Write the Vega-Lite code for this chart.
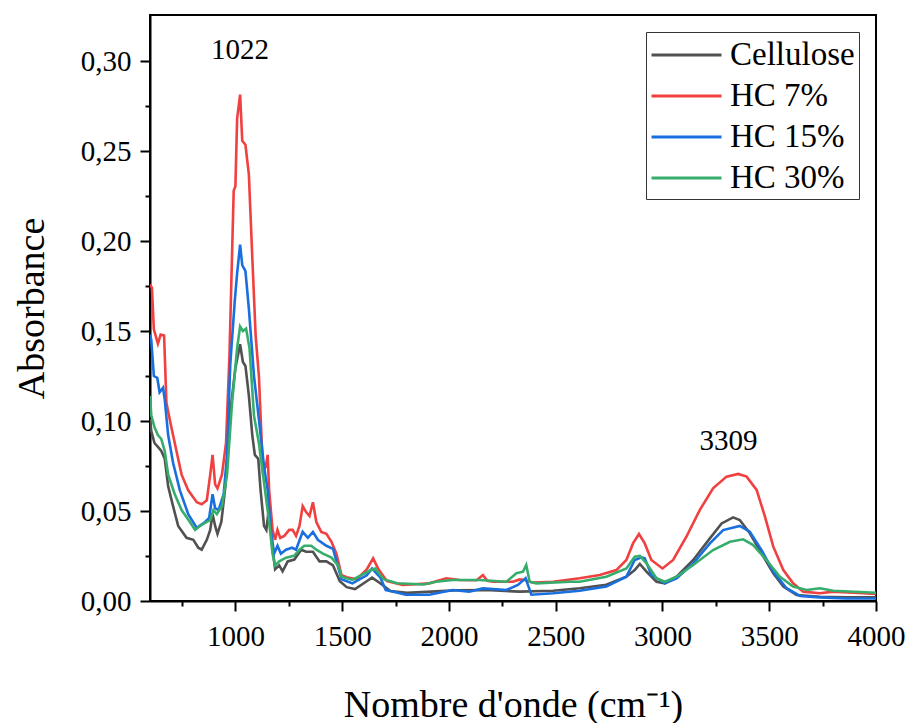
{
  "$schema": "https://vega.github.io/schema/vega-lite/v6.json",
  "width": 726,
  "height": 586,
  "autosize": {"type": "none"},
  "padding": {"left": 150, "top": 15, "right": 31, "bottom": 122},
  "background": "white",
  "datasets": {
    "spectres": [
      {"serie": "Cellulose", "nombre_onde": 600, "absorbance": 0.101},
      {"serie": "Cellulose", "nombre_onde": 606, "absorbance": 0.0944},
      {"serie": "Cellulose", "nombre_onde": 621, "absorbance": 0.0878},
      {"serie": "Cellulose", "nombre_onde": 637, "absorbance": 0.0856},
      {"serie": "Cellulose", "nombre_onde": 653, "absorbance": 0.0834},
      {"serie": "Cellulose", "nombre_onde": 669, "absorbance": 0.079},
      {"serie": "Cellulose", "nombre_onde": 685, "absorbance": 0.0637},
      {"serie": "Cellulose", "nombre_onde": 708, "absorbance": 0.0527},
      {"serie": "Cellulose", "nombre_onde": 732, "absorbance": 0.0417},
      {"serie": "Cellulose", "nombre_onde": 771, "absorbance": 0.0351},
      {"serie": "Cellulose", "nombre_onde": 803, "absorbance": 0.034},
      {"serie": "Cellulose", "nombre_onde": 826, "absorbance": 0.0296},
      {"serie": "Cellulose", "nombre_onde": 842, "absorbance": 0.0285},
      {"serie": "Cellulose", "nombre_onde": 866, "absorbance": 0.034},
      {"serie": "Cellulose", "nombre_onde": 882, "absorbance": 0.0395},
      {"serie": "Cellulose", "nombre_onde": 893, "absorbance": 0.0483},
      {"serie": "Cellulose", "nombre_onde": 905, "absorbance": 0.0417},
      {"serie": "Cellulose", "nombre_onde": 916, "absorbance": 0.0373},
      {"serie": "Cellulose", "nombre_onde": 934, "absorbance": 0.0439},
      {"serie": "Cellulose", "nombre_onde": 953, "absorbance": 0.0637},
      {"serie": "Cellulose", "nombre_onde": 976, "absorbance": 0.105},
      {"serie": "Cellulose", "nombre_onde": 1000, "absorbance": 0.1295},
      {"serie": "Cellulose", "nombre_onde": 1022, "absorbance": 0.1427},
      {"serie": "Cellulose", "nombre_onde": 1035, "absorbance": 0.1328},
      {"serie": "Cellulose", "nombre_onde": 1047, "absorbance": 0.1306},
      {"serie": "Cellulose", "nombre_onde": 1063, "absorbance": 0.1141},
      {"serie": "Cellulose", "nombre_onde": 1079, "absorbance": 0.0922},
      {"serie": "Cellulose", "nombre_onde": 1091, "absorbance": 0.0812},
      {"serie": "Cellulose", "nombre_onde": 1107, "absorbance": 0.079},
      {"serie": "Cellulose", "nombre_onde": 1118, "absorbance": 0.0615},
      {"serie": "Cellulose", "nombre_onde": 1134, "absorbance": 0.0417},
      {"serie": "Cellulose", "nombre_onde": 1145, "absorbance": 0.0395},
      {"serie": "Cellulose", "nombre_onde": 1158, "absorbance": 0.0527},
      {"serie": "Cellulose", "nombre_onde": 1170, "absorbance": 0.0329},
      {"serie": "Cellulose", "nombre_onde": 1186, "absorbance": 0.0176},
      {"serie": "Cellulose", "nombre_onde": 1205, "absorbance": 0.0198},
      {"serie": "Cellulose", "nombre_onde": 1221, "absorbance": 0.0165},
      {"serie": "Cellulose", "nombre_onde": 1245, "absorbance": 0.022},
      {"serie": "Cellulose", "nombre_onde": 1276, "absorbance": 0.023},
      {"serie": "Cellulose", "nombre_onde": 1308, "absorbance": 0.0285},
      {"serie": "Cellulose", "nombre_onde": 1331, "absorbance": 0.0274},
      {"serie": "Cellulose", "nombre_onde": 1363, "absorbance": 0.0274},
      {"serie": "Cellulose", "nombre_onde": 1394, "absorbance": 0.022},
      {"serie": "Cellulose", "nombre_onde": 1426, "absorbance": 0.022},
      {"serie": "Cellulose", "nombre_onde": 1457, "absorbance": 0.0198},
      {"serie": "Cellulose", "nombre_onde": 1489, "absorbance": 0.011},
      {"serie": "Cellulose", "nombre_onde": 1521, "absorbance": 0.0077},
      {"serie": "Cellulose", "nombre_onde": 1560, "absorbance": 0.0066},
      {"serie": "Cellulose", "nombre_onde": 1615, "absorbance": 0.011},
      {"serie": "Cellulose", "nombre_onde": 1640, "absorbance": 0.013},
      {"serie": "Cellulose", "nombre_onde": 1678, "absorbance": 0.0099},
      {"serie": "Cellulose", "nombre_onde": 1726, "absorbance": 0.0055},
      {"serie": "Cellulose", "nombre_onde": 1804, "absorbance": 0.0045},
      {"serie": "Cellulose", "nombre_onde": 1962, "absorbance": 0.0055},
      {"serie": "Cellulose", "nombre_onde": 2041, "absorbance": 0.006},
      {"serie": "Cellulose", "nombre_onde": 2173, "absorbance": 0.0061},
      {"serie": "Cellulose", "nombre_onde": 2331, "absorbance": 0.0052},
      {"serie": "Cellulose", "nombre_onde": 2488, "absorbance": 0.0057},
      {"serie": "Cellulose", "nombre_onde": 2612, "absorbance": 0.0071},
      {"serie": "Cellulose", "nombre_onde": 2737, "absorbance": 0.009},
      {"serie": "Cellulose", "nombre_onde": 2831, "absorbance": 0.0135},
      {"serie": "Cellulose", "nombre_onde": 2870, "absorbance": 0.0172},
      {"serie": "Cellulose", "nombre_onde": 2894, "absorbance": 0.0206},
      {"serie": "Cellulose", "nombre_onde": 2925, "absorbance": 0.0163},
      {"serie": "Cellulose", "nombre_onde": 2972, "absorbance": 0.0107},
      {"serie": "Cellulose", "nombre_onde": 3011, "absorbance": 0.0098},
      {"serie": "Cellulose", "nombre_onde": 3066, "absorbance": 0.0135},
      {"serie": "Cellulose", "nombre_onde": 3144, "absorbance": 0.0228},
      {"serie": "Cellulose", "nombre_onde": 3222, "absorbance": 0.0348},
      {"serie": "Cellulose", "nombre_onde": 3277, "absorbance": 0.0431},
      {"serie": "Cellulose", "nombre_onde": 3331, "absorbance": 0.0465},
      {"serie": "Cellulose", "nombre_onde": 3362, "absorbance": 0.045},
      {"serie": "Cellulose", "nombre_onde": 3409, "absorbance": 0.0376},
      {"serie": "Cellulose", "nombre_onde": 3464, "absorbance": 0.0265},
      {"serie": "Cellulose", "nombre_onde": 3519, "absorbance": 0.0154},
      {"serie": "Cellulose", "nombre_onde": 3566, "absorbance": 0.008},
      {"serie": "Cellulose", "nombre_onde": 3628, "absorbance": 0.0033},
      {"serie": "Cellulose", "nombre_onde": 3737, "absorbance": 0.0024},
      {"serie": "Cellulose", "nombre_onde": 3862, "absorbance": 0.002},
      {"serie": "Cellulose", "nombre_onde": 4000, "absorbance": 0.002},

      {"serie": "HC 7%", "nombre_onde": 600, "absorbance": 0.176},
      {"serie": "HC 7%", "nombre_onde": 609, "absorbance": 0.174},
      {"serie": "HC 7%", "nombre_onde": 618, "absorbance": 0.151},
      {"serie": "HC 7%", "nombre_onde": 637, "absorbance": 0.143},
      {"serie": "HC 7%", "nombre_onde": 650, "absorbance": 0.148},
      {"serie": "HC 7%", "nombre_onde": 666, "absorbance": 0.1475},
      {"serie": "HC 7%", "nombre_onde": 677, "absorbance": 0.11},
      {"serie": "HC 7%", "nombre_onde": 700, "absorbance": 0.0966},
      {"serie": "HC 7%", "nombre_onde": 724, "absorbance": 0.0834},
      {"serie": "HC 7%", "nombre_onde": 748, "absorbance": 0.0702},
      {"serie": "HC 7%", "nombre_onde": 779, "absorbance": 0.0615},
      {"serie": "HC 7%", "nombre_onde": 819, "absorbance": 0.0549},
      {"serie": "HC 7%", "nombre_onde": 842, "absorbance": 0.0538},
      {"serie": "HC 7%", "nombre_onde": 866, "absorbance": 0.056},
      {"serie": "HC 7%", "nombre_onde": 882, "absorbance": 0.0702},
      {"serie": "HC 7%", "nombre_onde": 893, "absorbance": 0.0812},
      {"serie": "HC 7%", "nombre_onde": 905, "absorbance": 0.0648},
      {"serie": "HC 7%", "nombre_onde": 916, "absorbance": 0.0626},
      {"serie": "HC 7%", "nombre_onde": 937, "absorbance": 0.0702},
      {"serie": "HC 7%", "nombre_onde": 956, "absorbance": 0.0878},
      {"serie": "HC 7%", "nombre_onde": 972, "absorbance": 0.136},
      {"serie": "HC 7%", "nombre_onde": 992, "absorbance": 0.228},
      {"serie": "HC 7%", "nombre_onde": 1000, "absorbance": 0.2305},
      {"serie": "HC 7%", "nombre_onde": 1008, "absorbance": 0.268},
      {"serie": "HC 7%", "nombre_onde": 1022, "absorbance": 0.2814},
      {"serie": "HC 7%", "nombre_onde": 1032, "absorbance": 0.2557},
      {"serie": "HC 7%", "nombre_onde": 1047, "absorbance": 0.2535},
      {"serie": "HC 7%", "nombre_onde": 1063, "absorbance": 0.237},
      {"serie": "HC 7%", "nombre_onde": 1079, "absorbance": 0.191},
      {"serie": "HC 7%", "nombre_onde": 1095, "absorbance": 0.147},
      {"serie": "HC 7%", "nombre_onde": 1110, "absorbance": 0.125},
      {"serie": "HC 7%", "nombre_onde": 1129, "absorbance": 0.0724},
      {"serie": "HC 7%", "nombre_onde": 1142, "absorbance": 0.0746},
      {"serie": "HC 7%", "nombre_onde": 1151, "absorbance": 0.0812},
      {"serie": "HC 7%", "nombre_onde": 1158, "absorbance": 0.0615},
      {"serie": "HC 7%", "nombre_onde": 1174, "absorbance": 0.0395},
      {"serie": "HC 7%", "nombre_onde": 1186, "absorbance": 0.034},
      {"serie": "HC 7%", "nombre_onde": 1197, "absorbance": 0.0395},
      {"serie": "HC 7%", "nombre_onde": 1210, "absorbance": 0.0351},
      {"serie": "HC 7%", "nombre_onde": 1229, "absorbance": 0.0362},
      {"serie": "HC 7%", "nombre_onde": 1252, "absorbance": 0.0395},
      {"serie": "HC 7%", "nombre_onde": 1268, "absorbance": 0.0395},
      {"serie": "HC 7%", "nombre_onde": 1284, "absorbance": 0.0362},
      {"serie": "HC 7%", "nombre_onde": 1300, "absorbance": 0.0417},
      {"serie": "HC 7%", "nombre_onde": 1315, "absorbance": 0.0527},
      {"serie": "HC 7%", "nombre_onde": 1331, "absorbance": 0.0494},
      {"serie": "HC 7%", "nombre_onde": 1347, "absorbance": 0.0472},
      {"serie": "HC 7%", "nombre_onde": 1363, "absorbance": 0.0549},
      {"serie": "HC 7%", "nombre_onde": 1379, "absorbance": 0.0439},
      {"serie": "HC 7%", "nombre_onde": 1402, "absorbance": 0.0384},
      {"serie": "HC 7%", "nombre_onde": 1426, "absorbance": 0.0373},
      {"serie": "HC 7%", "nombre_onde": 1450, "absorbance": 0.0329},
      {"serie": "HC 7%", "nombre_onde": 1473, "absorbance": 0.0263},
      {"serie": "HC 7%", "nombre_onde": 1497, "absorbance": 0.0143},
      {"serie": "HC 7%", "nombre_onde": 1521, "absorbance": 0.0132},
      {"serie": "HC 7%", "nombre_onde": 1568, "absorbance": 0.0121},
      {"serie": "HC 7%", "nombre_onde": 1615, "absorbance": 0.0176},
      {"serie": "HC 7%", "nombre_onde": 1645, "absorbance": 0.0237},
      {"serie": "HC 7%", "nombre_onde": 1670, "absorbance": 0.0176},
      {"serie": "HC 7%", "nombre_onde": 1710, "absorbance": 0.011},
      {"serie": "HC 7%", "nombre_onde": 1783, "absorbance": 0.0089},
      {"serie": "HC 7%", "nombre_onde": 1908, "absorbance": 0.0098},
      {"serie": "HC 7%", "nombre_onde": 1988, "absorbance": 0.0126},
      {"serie": "HC 7%", "nombre_onde": 2050, "absorbance": 0.0117},
      {"serie": "HC 7%", "nombre_onde": 2130, "absorbance": 0.0115},
      {"serie": "HC 7%", "nombre_onde": 2159, "absorbance": 0.0144},
      {"serie": "HC 7%", "nombre_onde": 2180, "absorbance": 0.0112},
      {"serie": "HC 7%", "nombre_onde": 2206, "absorbance": 0.0107},
      {"serie": "HC 7%", "nombre_onde": 2300, "absorbance": 0.0107},
      {"serie": "HC 7%", "nombre_onde": 2331, "absorbance": 0.012},
      {"serie": "HC 7%", "nombre_onde": 2355, "absorbance": 0.0117},
      {"serie": "HC 7%", "nombre_onde": 2394, "absorbance": 0.0102},
      {"serie": "HC 7%", "nombre_onde": 2488, "absorbance": 0.0107},
      {"serie": "HC 7%", "nombre_onde": 2612, "absorbance": 0.0126},
      {"serie": "HC 7%", "nombre_onde": 2706, "absorbance": 0.0144},
      {"serie": "HC 7%", "nombre_onde": 2784, "absorbance": 0.0172},
      {"serie": "HC 7%", "nombre_onde": 2831, "absorbance": 0.0228},
      {"serie": "HC 7%", "nombre_onde": 2862, "absorbance": 0.032},
      {"serie": "HC 7%", "nombre_onde": 2890, "absorbance": 0.0372},
      {"serie": "HC 7%", "nombre_onde": 2917, "absorbance": 0.032},
      {"serie": "HC 7%", "nombre_onde": 2948, "absorbance": 0.0228},
      {"serie": "HC 7%", "nombre_onde": 3000, "absorbance": 0.0181},
      {"serie": "HC 7%", "nombre_onde": 3050, "absorbance": 0.0228},
      {"serie": "HC 7%", "nombre_onde": 3112, "absorbance": 0.0357},
      {"serie": "HC 7%", "nombre_onde": 3175, "absorbance": 0.0506},
      {"serie": "HC 7%", "nombre_onde": 3237, "absorbance": 0.0626},
      {"serie": "HC 7%", "nombre_onde": 3300, "absorbance": 0.0691},
      {"serie": "HC 7%", "nombre_onde": 3355, "absorbance": 0.0706},
      {"serie": "HC 7%", "nombre_onde": 3394, "absorbance": 0.0691},
      {"serie": "HC 7%", "nombre_onde": 3441, "absorbance": 0.0617},
      {"serie": "HC 7%", "nombre_onde": 3480, "absorbance": 0.0469},
      {"serie": "HC 7%", "nombre_onde": 3519, "absorbance": 0.0302},
      {"serie": "HC 7%", "nombre_onde": 3566, "absorbance": 0.0172},
      {"serie": "HC 7%", "nombre_onde": 3612, "absorbance": 0.0098},
      {"serie": "HC 7%", "nombre_onde": 3659, "absorbance": 0.0052},
      {"serie": "HC 7%", "nombre_onde": 3737, "absorbance": 0.0043},
      {"serie": "HC 7%", "nombre_onde": 3800, "absorbance": 0.0052},
      {"serie": "HC 7%", "nombre_onde": 3941, "absorbance": 0.0043},
      {"serie": "HC 7%", "nombre_onde": 4000, "absorbance": 0.0039},

      {"serie": "HC 15%", "nombre_onde": 600, "absorbance": 0.148},
      {"serie": "HC 15%", "nombre_onde": 606, "absorbance": 0.145},
      {"serie": "HC 15%", "nombre_onde": 618, "absorbance": 0.125},
      {"serie": "HC 15%", "nombre_onde": 634, "absorbance": 0.124},
      {"serie": "HC 15%", "nombre_onde": 645, "absorbance": 0.116},
      {"serie": "HC 15%", "nombre_onde": 661, "absorbance": 0.1185},
      {"serie": "HC 15%", "nombre_onde": 669, "absorbance": 0.112},
      {"serie": "HC 15%", "nombre_onde": 685, "absorbance": 0.0922},
      {"serie": "HC 15%", "nombre_onde": 708, "absorbance": 0.0768},
      {"serie": "HC 15%", "nombre_onde": 740, "absorbance": 0.0615},
      {"serie": "HC 15%", "nombre_onde": 779, "absorbance": 0.0483},
      {"serie": "HC 15%", "nombre_onde": 819, "absorbance": 0.0406},
      {"serie": "HC 15%", "nombre_onde": 858, "absorbance": 0.0439},
      {"serie": "HC 15%", "nombre_onde": 877, "absorbance": 0.0461},
      {"serie": "HC 15%", "nombre_onde": 893, "absorbance": 0.0593},
      {"serie": "HC 15%", "nombre_onde": 905, "absorbance": 0.0516},
      {"serie": "HC 15%", "nombre_onde": 921, "absorbance": 0.0505},
      {"serie": "HC 15%", "nombre_onde": 945, "absorbance": 0.0593},
      {"serie": "HC 15%", "nombre_onde": 961, "absorbance": 0.0812},
      {"serie": "HC 15%", "nombre_onde": 976, "absorbance": 0.1317},
      {"serie": "HC 15%", "nombre_onde": 997, "absorbance": 0.1668},
      {"serie": "HC 15%", "nombre_onde": 1008, "absorbance": 0.182},
      {"serie": "HC 15%", "nombre_onde": 1022, "absorbance": 0.198},
      {"serie": "HC 15%", "nombre_onde": 1032, "absorbance": 0.1866},
      {"serie": "HC 15%", "nombre_onde": 1047, "absorbance": 0.1833},
      {"serie": "HC 15%", "nombre_onde": 1063, "absorbance": 0.1624},
      {"serie": "HC 15%", "nombre_onde": 1087, "absorbance": 0.125},
      {"serie": "HC 15%", "nombre_onde": 1110, "absorbance": 0.101},
      {"serie": "HC 15%", "nombre_onde": 1134, "absorbance": 0.0746},
      {"serie": "HC 15%", "nombre_onde": 1150, "absorbance": 0.0626},
      {"serie": "HC 15%", "nombre_onde": 1166, "absorbance": 0.0395},
      {"serie": "HC 15%", "nombre_onde": 1181, "absorbance": 0.0263},
      {"serie": "HC 15%", "nombre_onde": 1197, "absorbance": 0.0307},
      {"serie": "HC 15%", "nombre_onde": 1213, "absorbance": 0.0263},
      {"serie": "HC 15%", "nombre_onde": 1237, "absorbance": 0.0285},
      {"serie": "HC 15%", "nombre_onde": 1265, "absorbance": 0.0296},
      {"serie": "HC 15%", "nombre_onde": 1284, "absorbance": 0.0285},
      {"serie": "HC 15%", "nombre_onde": 1315, "absorbance": 0.0384},
      {"serie": "HC 15%", "nombre_onde": 1339, "absorbance": 0.0351},
      {"serie": "HC 15%", "nombre_onde": 1363, "absorbance": 0.0384},
      {"serie": "HC 15%", "nombre_onde": 1386, "absorbance": 0.034},
      {"serie": "HC 15%", "nombre_onde": 1426, "absorbance": 0.0307},
      {"serie": "HC 15%", "nombre_onde": 1457, "absorbance": 0.029},
      {"serie": "HC 15%", "nombre_onde": 1497, "absorbance": 0.0121},
      {"serie": "HC 15%", "nombre_onde": 1548, "absorbance": 0.0098},
      {"serie": "HC 15%", "nombre_onde": 1615, "absorbance": 0.0143},
      {"serie": "HC 15%", "nombre_onde": 1640, "absorbance": 0.018},
      {"serie": "HC 15%", "nombre_onde": 1678, "absorbance": 0.0132},
      {"serie": "HC 15%", "nombre_onde": 1704, "absorbance": 0.0061},
      {"serie": "HC 15%", "nombre_onde": 1726, "absorbance": 0.0055},
      {"serie": "HC 15%", "nombre_onde": 1798, "absorbance": 0.0035},
      {"serie": "HC 15%", "nombre_onde": 1908, "absorbance": 0.0035},
      {"serie": "HC 15%", "nombre_onde": 2017, "absorbance": 0.0061},
      {"serie": "HC 15%", "nombre_onde": 2095, "absorbance": 0.0052},
      {"serie": "HC 15%", "nombre_onde": 2159, "absorbance": 0.007},
      {"serie": "HC 15%", "nombre_onde": 2269, "absorbance": 0.0061},
      {"serie": "HC 15%", "nombre_onde": 2323, "absorbance": 0.0089},
      {"serie": "HC 15%", "nombre_onde": 2359, "absorbance": 0.0126},
      {"serie": "HC 15%", "nombre_onde": 2386, "absorbance": 0.0035},
      {"serie": "HC 15%", "nombre_onde": 2488, "absorbance": 0.0043},
      {"serie": "HC 15%", "nombre_onde": 2612, "absorbance": 0.0057},
      {"serie": "HC 15%", "nombre_onde": 2737, "absorbance": 0.008},
      {"serie": "HC 15%", "nombre_onde": 2831, "absorbance": 0.0135},
      {"serie": "HC 15%", "nombre_onde": 2870, "absorbance": 0.0228},
      {"serie": "HC 15%", "nombre_onde": 2902, "absorbance": 0.0243},
      {"serie": "HC 15%", "nombre_onde": 2917, "absorbance": 0.0237},
      {"serie": "HC 15%", "nombre_onde": 2948, "absorbance": 0.0144},
      {"serie": "HC 15%", "nombre_onde": 3011, "absorbance": 0.0098},
      {"serie": "HC 15%", "nombre_onde": 3066, "absorbance": 0.0126},
      {"serie": "HC 15%", "nombre_onde": 3144, "absorbance": 0.0209},
      {"serie": "HC 15%", "nombre_onde": 3222, "absorbance": 0.032},
      {"serie": "HC 15%", "nombre_onde": 3284, "absorbance": 0.0394},
      {"serie": "HC 15%", "nombre_onde": 3362, "absorbance": 0.0417},
      {"serie": "HC 15%", "nombre_onde": 3409, "absorbance": 0.0385},
      {"serie": "HC 15%", "nombre_onde": 3464, "absorbance": 0.0283},
      {"serie": "HC 15%", "nombre_onde": 3519, "absorbance": 0.0163},
      {"serie": "HC 15%", "nombre_onde": 3581, "absorbance": 0.0071},
      {"serie": "HC 15%", "nombre_onde": 3644, "absorbance": 0.0028},
      {"serie": "HC 15%", "nombre_onde": 3737, "absorbance": 0.002},
      {"serie": "HC 15%", "nombre_onde": 3862, "absorbance": 0.0014},
      {"serie": "HC 15%", "nombre_onde": 4000, "absorbance": 0.0014},

      {"serie": "HC 30%", "nombre_onde": 600, "absorbance": 0.114},
      {"serie": "HC 30%", "nombre_onde": 606, "absorbance": 0.103},
      {"serie": "HC 30%", "nombre_onde": 621, "absorbance": 0.0966},
      {"serie": "HC 30%", "nombre_onde": 637, "absorbance": 0.0922},
      {"serie": "HC 30%", "nombre_onde": 653, "absorbance": 0.09},
      {"serie": "HC 30%", "nombre_onde": 669, "absorbance": 0.0834},
      {"serie": "HC 30%", "nombre_onde": 685, "absorbance": 0.0702},
      {"serie": "HC 30%", "nombre_onde": 716, "absorbance": 0.0593},
      {"serie": "HC 30%", "nombre_onde": 748, "absorbance": 0.0505},
      {"serie": "HC 30%", "nombre_onde": 787, "absorbance": 0.0439},
      {"serie": "HC 30%", "nombre_onde": 811, "absorbance": 0.0395},
      {"serie": "HC 30%", "nombre_onde": 834, "absorbance": 0.0417},
      {"serie": "HC 30%", "nombre_onde": 866, "absorbance": 0.0439},
      {"serie": "HC 30%", "nombre_onde": 882, "absorbance": 0.045},
      {"serie": "HC 30%", "nombre_onde": 897, "absorbance": 0.0505},
      {"serie": "HC 30%", "nombre_onde": 913, "absorbance": 0.0483},
      {"serie": "HC 30%", "nombre_onde": 937, "absorbance": 0.0527},
      {"serie": "HC 30%", "nombre_onde": 961, "absorbance": 0.0702},
      {"serie": "HC 30%", "nombre_onde": 984, "absorbance": 0.1097},
      {"serie": "HC 30%", "nombre_onde": 1008, "absorbance": 0.1405},
      {"serie": "HC 30%", "nombre_onde": 1022, "absorbance": 0.1525},
      {"serie": "HC 30%", "nombre_onde": 1035, "absorbance": 0.15},
      {"serie": "HC 30%", "nombre_onde": 1050, "absorbance": 0.1514},
      {"serie": "HC 30%", "nombre_onde": 1066, "absorbance": 0.1405},
      {"serie": "HC 30%", "nombre_onde": 1087, "absorbance": 0.103},
      {"serie": "HC 30%", "nombre_onde": 1110, "absorbance": 0.0878},
      {"serie": "HC 30%", "nombre_onde": 1134, "absorbance": 0.0658},
      {"serie": "HC 30%", "nombre_onde": 1158, "absorbance": 0.0439},
      {"serie": "HC 30%", "nombre_onde": 1174, "absorbance": 0.0263},
      {"serie": "HC 30%", "nombre_onde": 1186, "absorbance": 0.0198},
      {"serie": "HC 30%", "nombre_onde": 1205, "absorbance": 0.022},
      {"serie": "HC 30%", "nombre_onde": 1237, "absorbance": 0.0241},
      {"serie": "HC 30%", "nombre_onde": 1276, "absorbance": 0.0252},
      {"serie": "HC 30%", "nombre_onde": 1300, "absorbance": 0.0285},
      {"serie": "HC 30%", "nombre_onde": 1323, "absorbance": 0.0307},
      {"serie": "HC 30%", "nombre_onde": 1355, "absorbance": 0.0307},
      {"serie": "HC 30%", "nombre_onde": 1379, "absorbance": 0.0285},
      {"serie": "HC 30%", "nombre_onde": 1410, "absorbance": 0.0263},
      {"serie": "HC 30%", "nombre_onde": 1450, "absorbance": 0.0241},
      {"serie": "HC 30%", "nombre_onde": 1481, "absorbance": 0.0198},
      {"serie": "HC 30%", "nombre_onde": 1497, "absorbance": 0.0135},
      {"serie": "HC 30%", "nombre_onde": 1548, "absorbance": 0.0117},
      {"serie": "HC 30%", "nombre_onde": 1634, "absorbance": 0.0172},
      {"serie": "HC 30%", "nombre_onde": 1655, "absorbance": 0.018},
      {"serie": "HC 30%", "nombre_onde": 1694, "absorbance": 0.0121},
      {"serie": "HC 30%", "nombre_onde": 1757, "absorbance": 0.0099},
      {"serie": "HC 30%", "nombre_onde": 1883, "absorbance": 0.0092},
      {"serie": "HC 30%", "nombre_onde": 1939, "absorbance": 0.0107},
      {"serie": "HC 30%", "nombre_onde": 2017, "absorbance": 0.0117},
      {"serie": "HC 30%", "nombre_onde": 2142, "absorbance": 0.0117},
      {"serie": "HC 30%", "nombre_onde": 2269, "absorbance": 0.0107},
      {"serie": "HC 30%", "nombre_onde": 2316, "absorbance": 0.0154},
      {"serie": "HC 30%", "nombre_onde": 2347, "absorbance": 0.0163},
      {"serie": "HC 30%", "nombre_onde": 2362, "absorbance": 0.02},
      {"serie": "HC 30%", "nombre_onde": 2378, "absorbance": 0.0107},
      {"serie": "HC 30%", "nombre_onde": 2409, "absorbance": 0.0098},
      {"serie": "HC 30%", "nombre_onde": 2566, "absorbance": 0.0107},
      {"serie": "HC 30%", "nombre_onde": 2612, "absorbance": 0.0107},
      {"serie": "HC 30%", "nombre_onde": 2737, "absorbance": 0.0135},
      {"serie": "HC 30%", "nombre_onde": 2831, "absorbance": 0.0181},
      {"serie": "HC 30%", "nombre_onde": 2870, "absorbance": 0.0246},
      {"serie": "HC 30%", "nombre_onde": 2894, "absorbance": 0.025},
      {"serie": "HC 30%", "nombre_onde": 2925, "absorbance": 0.0209},
      {"serie": "HC 30%", "nombre_onde": 2972, "absorbance": 0.0126},
      {"serie": "HC 30%", "nombre_onde": 3011, "absorbance": 0.0107},
      {"serie": "HC 30%", "nombre_onde": 3066, "absorbance": 0.0135},
      {"serie": "HC 30%", "nombre_onde": 3144, "absorbance": 0.02},
      {"serie": "HC 30%", "nombre_onde": 3237, "absorbance": 0.0283},
      {"serie": "HC 30%", "nombre_onde": 3316, "absorbance": 0.0329},
      {"serie": "HC 30%", "nombre_onde": 3378, "absorbance": 0.0343},
      {"serie": "HC 30%", "nombre_onde": 3425, "absorbance": 0.0311},
      {"serie": "HC 30%", "nombre_onde": 3487, "absorbance": 0.0228},
      {"serie": "HC 30%", "nombre_onde": 3550, "absorbance": 0.0135},
      {"serie": "HC 30%", "nombre_onde": 3612, "absorbance": 0.008},
      {"serie": "HC 30%", "nombre_onde": 3675, "absorbance": 0.0061},
      {"serie": "HC 30%", "nombre_onde": 3737, "absorbance": 0.0071},
      {"serie": "HC 30%", "nombre_onde": 3800, "absorbance": 0.0057},
      {"serie": "HC 30%", "nombre_onde": 4000, "absorbance": 0.0046}
    ],
    "pics": [
      {"nombre_onde": 1022, "absorbance": 0.306, "texte": "1022"},
      {"nombre_onde": 3309, "absorbance": 0.0889, "texte": "3309"}
    ]
  },
  "layer": [
    {
      "data": {"name": "spectres"},
      "mark": {"type": "line", "strokeWidth": 2.6, "clip": true, "interpolate": "linear"},
      "encoding": {
        "x": {
          "field": "nombre_onde",
          "type": "quantitative",
          "scale": {"domain": [600, 4000], "nice": false, "zero": false},
          "axis": {
            "title": "Nombre d'onde (cm⁻¹)",
            "values": [750, 1000, 1250, 1500, 1750, 2000, 2250, 2500, 2750, 3000, 3250, 3500, 3750, 4000],
            "labelExpr": "datum.value % 500 == 0 ? format(datum.value, 'd') : ''",
            "tickSize": {"condition": {"test": "datum.value % 500 == 0", "value": 10}, "value": 5},
            "labelPadding": 11,
            "labelFlush": false,
            "labelOverlap": false,
            "titleFontSize": 38,
            "titleY": 115,
            "titleBaseline": "alphabetic"
          }
        },
        "y": {
          "field": "absorbance",
          "type": "quantitative",
          "scale": {"domain": [0, 0.3256], "nice": false},
          "axis": {
            "title": "Absorbance",
            "values": [0, 0.025, 0.05, 0.075, 0.1, 0.125, 0.15, 0.175, 0.2, 0.225, 0.25, 0.275, 0.3],
            "labelExpr": "abs(datum.value * 20 - round(datum.value * 20)) < 0.001 ? replace(format(datum.value, '.2f'), '.', ',') : ''",
            "tickSize": {"condition": {"test": "abs(datum.value * 20 - round(datum.value * 20)) < 0.001", "value": 10}, "value": 5},
            "labelPadding": 9,
            "labelFlush": false,
            "labelOverlap": false,
            "titleFontSize": 38,
            "titleAngle": -90,
            "titleX": -118,
            "titleY": 293,
            "titleAlign": "center",
            "titleBaseline": "middle"
          }
        },
        "color": {
          "field": "serie",
          "type": "nominal",
          "scale": {
            "domain": ["Cellulose", "HC 7%", "HC 15%", "HC 30%"],
            "range": ["#515151", "#F14040", "#1A6FDF", "#37AD6B"]
          },
          "legend": {
            "title": null,
            "orient": "top-right",
            "offset": 17,
            "symbolType": "M-1,0H3",
            "symbolSize": 1225,
            "symbolStrokeWidth": 3,
            "labelFont": "Times New Roman, Liberation Serif, serif",
            "labelFontSize": 33,
            "labelColor": "black",
            "labelOffset": 42,
            "rowPadding": 5,
            "padding": 4,
            "strokeColor": "#333333",
            "fillColor": "white"
          }
        }
      }
    },
    {
      "data": {"name": "pics"},
      "mark": {"type": "text", "font": "Times New Roman, Liberation Serif, serif", "fontSize": 29, "color": "black", "align": "center", "baseline": "middle"},
      "encoding": {
        "x": {"field": "nombre_onde", "type": "quantitative"},
        "y": {"field": "absorbance", "type": "quantitative"},
        "text": {"field": "texte", "type": "nominal"}
      }
    }
  ],
  "config": {
    "view": {"stroke": "black", "strokeWidth": 2},
    "axis": {
      "grid": false,
      "domainColor": "black",
      "domainWidth": 2,
      "tickColor": "black",
      "tickWidth": 2,
      "labelFont": "Times New Roman, Liberation Serif, serif",
      "labelFontSize": 29,
      "labelColor": "black",
      "titleFont": "Times New Roman, Liberation Serif, serif",
      "titleFontWeight": "normal",
      "titleColor": "black"
    }
  }
}
